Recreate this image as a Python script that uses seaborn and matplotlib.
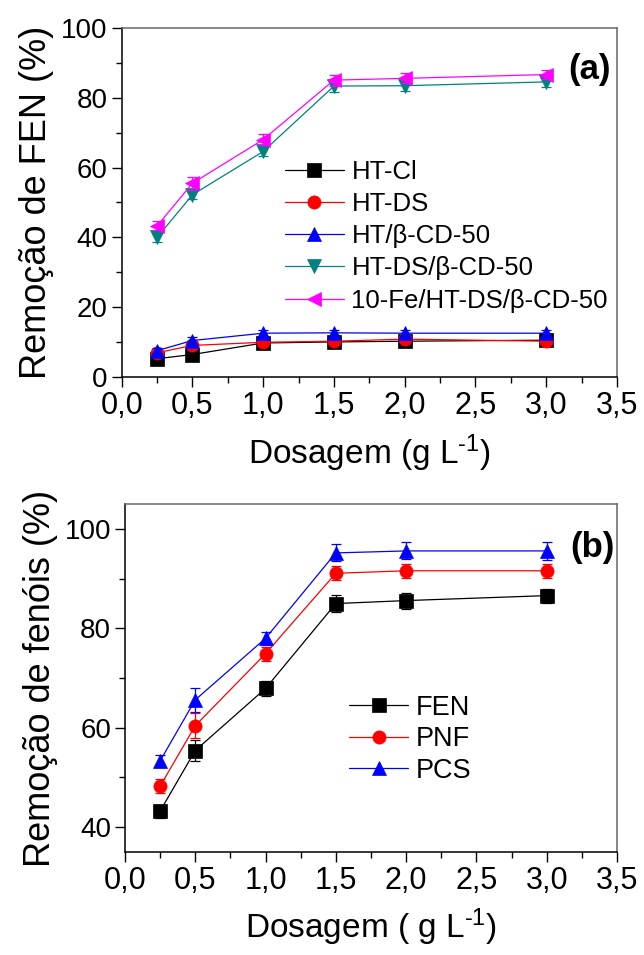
import matplotlib
matplotlib.use("Agg")
import matplotlib.pyplot as plt
import seaborn as sns
import numpy as np
from matplotlib.ticker import MultipleLocator
from matplotlib import font_manager

# ---------------- data ----------------
dose = [0.25, 0.5, 1.0, 1.5, 2.0, 3.0]

# panel (a)
labels_a = ["HT-Cl", "HT-DS", "HT/β-CD-50", "HT-DS/β-CD-50", "10-Fe/HT-DS/β-CD-50"]
ht_cl = [5.3, 6.5, 9.8, 10.1, 10.3, 10.6]
ht_cl_err = [0.9, 1.0, 0.9, 1.3, 1.0, 1.0]
ht_ds = [7.0, 9.1, 10.0, 10.3, 10.9, 10.3]
ht_ds_err = [0.8, 1.0, 0.8, 1.2, 1.0, 0.9]
ht_bcd = [7.6, 10.5, 12.6, 12.7, 12.6, 12.6]
ht_bcd_err = [0.8, 1.0, 0.9, 0.9, 0.9, 0.9]
ht_ds_bcd = [40.0, 52.2, 64.6, 83.3, 83.4, 84.5]
ht_ds_bcd_err = [1.2, 1.2, 1.2, 1.8, 1.6, 1.4]
fe_ht_ds_bcd = [43.3, 55.5, 68.0, 85.0, 85.5, 86.6]
fe_ht_ds_bcd_err = [1.3, 1.8, 1.6, 1.6, 1.4, 1.3]

# panel (b)
labels_b = ["FEN", "PNF", "PCS"]
fen = [43.2, 55.4, 67.9, 85.0, 85.6, 86.6]
fen_err = [1.3, 2.1, 1.6, 1.7, 1.6, 1.4]
pnf = [48.2, 60.4, 74.9, 91.1, 91.6, 91.6]
pnf_err = [1.4, 2.5, 1.4, 1.4, 1.4, 1.4]
pcs = [53.3, 65.6, 78.0, 95.2, 95.6, 95.6]
pcs_err = [1.3, 2.4, 1.3, 1.7, 1.7, 1.8]

xticks = [0.0, 0.5, 1.0, 1.5, 2.0, 2.5, 3.0, 3.5]
xtick_labels = ["0,0", "0,5", "1,0", "1,5", "2,0", "2,5", "3,0", "3,5"]
yticks_a = [0, 20, 40, 60, 80, 100]
yticks_b = [40, 60, 80, 100]

colors_a = ["#000000", "#FF0000", "#0000FF", "#008080", "#FF00FF"]
markers_a = ["s", "o", "^", "v", "<"]
colors_b = ["#000000", "#FF0000", "#0000FF"]
markers_b = ["s", "o", "^"]

# ---------------- style ----------------
sns.set_style("ticks")
plt.rcParams["font.family"] = ["Liberation Sans", "DejaVu Sans"]
plt.rcParams["text.color"] = "black"
plt.rcParams["axes.labelcolor"] = "black"
plt.rcParams["xtick.color"] = "black"
plt.rcParams["ytick.color"] = "black"
plt.rcParams["mathtext.fontset"] = "custom"
plt.rcParams["mathtext.rm"] = "Liberation Sans"
names = {f.name for f in font_manager.fontManager.ttflist}
narrow = "Liberation Sans Narrow" if "Liberation Sans Narrow" in names else "Liberation Sans"

fig = plt.figure(figsize=(6.44, 9.55), dpi=100)
ax_a = fig.add_axes([0.189, 0.605, 0.769, 0.366])
ax_b = fig.add_axes([0.194, 0.108, 0.764, 0.364])


def draw(ax, ys, errs, labels, colors, markers, ms):
    for i, (y, e, lab, c, m) in enumerate(zip(ys, errs, labels, colors, markers)):
        sns.lineplot(x=dose, y=y, ax=ax, color=c, marker=m, markersize=ms,
                     markeredgecolor=c, markeredgewidth=0.5, linewidth=0.9,
                     label=lab, zorder=3 + i)
        ax.errorbar(dose, y, yerr=e, fmt="none", ecolor=c, elinewidth=0.9,
                    capsize=3.5, capthick=0.9, zorder=3.5 + i)


def style_axes(ax, ylim, yticks, ymin_step):
    ax.set_xlim(0, 3.5)
    ax.set_ylim(*ylim)
    ax.set_xticks(xticks)
    ax.set_xticklabels(xtick_labels, fontfamily=[narrow, "DejaVu Sans"], fontsize=22)
    ax.set_yticks(yticks)
    ax.set_yticklabels([str(v) for v in yticks], fontsize=20)
    ax.xaxis.set_minor_locator(MultipleLocator(0.25))
    ax.yaxis.set_minor_locator(MultipleLocator(ymin_step))
    ax.tick_params(which="major", direction="out", length=7, width=1.0,
                   color="black", top=False, right=False, pad=3)
    ax.tick_params(which="minor", direction="out", length=4, width=1.0,
                   color="black", top=False, right=False)
    for s in ["left", "bottom"]:
        ax.spines[s].set_color("black")
        ax.spines[s].set_linewidth(1.1)
    for s in ["top", "right"]:
        ax.spines[s].set_color("#666666")
        ax.spines[s].set_linewidth(1.1)


sup = "$\\mathregular{^{\\text{-}1}}$"

# panel (a)
draw(ax_a, [ht_cl, ht_ds, ht_bcd, ht_ds_bcd, fe_ht_ds_bcd],
     [ht_cl_err, ht_ds_err, ht_bcd_err, ht_ds_bcd_err, fe_ht_ds_bcd_err],
     labels_a, colors_a, markers_a, 9.5)
style_axes(ax_a, (0, 100), yticks_a, 10)
ax_a.set_ylabel("Remoção de FEN (%)", fontsize=26, labelpad=5)
ax_a.set_xlabel("Dosagem (g L" + sup + ")", fontsize=24, labelpad=8)
ax_a.text(0.945, 0.88, "(a)", transform=ax_a.transAxes, fontsize=25,
          fontweight="bold", ha="center", va="center")
ax_a.legend(loc="upper left", bbox_to_anchor=(0.329, 0.622), frameon=False,
            fontsize=18.5, handlelength=2.3, handletextpad=0.3, labelspacing=0.32,
            borderpad=0, borderaxespad=0, numpoints=1)

# panel (b)
draw(ax_b, [fen, pnf, pcs], [fen_err, pnf_err, pcs_err],
     labels_b, colors_b, markers_b, 9.5)
style_axes(ax_b, (35, 105), yticks_b, 10)
ax_b.set_ylabel("Remoção de fenóis (%)", fontsize=26, labelpad=5)
ax_b.set_xlabel("Dosagem ( g L" + sup + ")", fontsize=24, labelpad=8)
ax_b.text(0.95, 0.875, "(b)", transform=ax_b.transAxes, fontsize=25,
          fontweight="bold", ha="center", va="center")
ax_b.legend(loc="upper left", bbox_to_anchor=(0.455, 0.452), frameon=False,
            fontsize=19.5, handlelength=2.2, handletextpad=0.28, labelspacing=0.2,
            borderpad=0, borderaxespad=0, numpoints=1)

fig.savefig("out.png", dpi=100)
